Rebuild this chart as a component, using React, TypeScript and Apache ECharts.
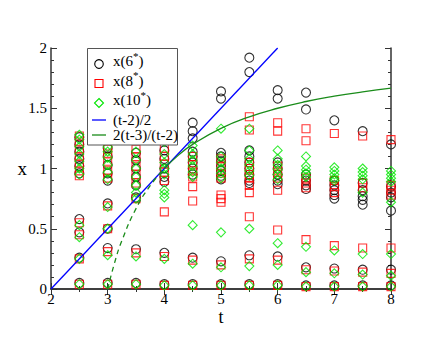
import React, { useEffect, useRef } from 'react';
import * as echarts from 'echarts';

const tValues = [2.5, 3, 3.5, 4, 4.5, 5, 5.5, 6, 6.5, 7, 7.5, 8];

const x6: number[][] = [
  [1.26, 1.2, 1.14, 1.08, 1.02, 0.96, 0.58, 0.47, 0.26, 0.05],
  [1.17, 1.1, 1.03, 0.96, 0.9, 0.71, 0.5, 0.34, 0.05],
  [1.13, 1.07, 1.0, 0.93, 0.86, 0.76, 0.33, 0.05],
  [1.15, 1.08, 1.0, 0.93, 0.89, 0.3, 0.04],
  [1.38, 1.31, 1.25, 1.14, 1.1, 1.05, 1.0, 0.95, 0.26, 0.04],
  [1.64, 1.58, 1.13, 1.1, 1.06, 1.02, 0.98, 0.94, 0.91, 0.23, 0.04],
  [1.92, 1.8, 1.15, 1.1, 1.05, 1.0, 0.95, 0.9, 0.88, 0.28, 0.04],
  [1.65, 1.58, 1.05, 1.0, 0.95, 0.9, 0.87, 0.27, 0.04],
  [1.63, 1.49, 0.95, 0.9, 0.86, 0.83, 0.18, 0.03],
  [1.4, 0.9, 0.86, 0.82, 0.78, 0.75, 0.17, 0.03],
  [1.31, 0.88, 0.82, 0.77, 0.74, 0.7, 0.16, 0.03],
  [1.2, 0.85, 0.8, 0.76, 0.65, 0.16, 0.03],
];

const x8: number[][] = [
  [1.27, 1.22, 1.16, 1.1, 1.04, 0.98, 0.94, 0.55, 0.45, 0.25, 0.04],
  [1.16, 1.12, 1.06, 0.98, 0.92, 0.69, 0.5, 0.31, 0.04],
  [1.16, 1.1, 1.02, 0.95, 0.88, 0.75, 0.3, 0.04],
  [1.17, 1.1, 1.04, 0.97, 0.9, 0.64, 0.27, 0.03],
  [1.1, 1.03, 0.98, 0.93, 0.85, 0.73, 0.24, 0.03],
  [1.08, 1.02, 0.96, 0.92, 0.78, 0.75, 0.72, 0.2, 0.03],
  [1.43, 1.32, 1.05, 1.0, 0.95, 0.92, 0.86, 0.8, 0.6, 0.25, 0.03],
  [1.38, 1.31, 1.02, 0.97, 0.92, 0.82, 0.49, 0.24, 0.03],
  [1.33, 1.23, 0.92, 0.88, 0.84, 0.41, 0.16, 0.02],
  [1.29, 0.9, 0.85, 0.8, 0.36, 0.15, 0.02],
  [1.27, 0.88, 0.84, 0.34, 0.14, 0.02],
  [1.24, 0.86, 0.82, 0.78, 0.34, 0.13, 0.02],
];

const x10: number[][] = [
  [1.28, 1.24, 1.18, 1.12, 1.06, 1.0, 0.95, 0.53, 0.43, 0.25, 0.04],
  [1.18, 1.14, 1.09, 1.03, 0.97, 0.91, 0.68, 0.5, 0.28, 0.04],
  [1.14, 1.07, 1.0, 0.93, 0.86, 0.8, 0.75, 0.27, 0.04],
  [1.22, 1.12, 1.05, 1.0, 0.95, 0.82, 0.79, 0.76, 0.25, 0.03],
  [1.19, 1.12, 1.07, 1.02, 0.97, 0.93, 0.53, 0.21, 0.03],
  [1.33, 1.1, 1.05, 1.0, 0.96, 0.92, 0.47, 0.18, 0.03],
  [1.33, 1.15, 1.08, 1.03, 0.98, 0.94, 0.5, 0.19, 0.03],
  [1.15, 1.08, 1.03, 0.99, 0.95, 0.91, 0.38, 0.2, 0.03],
  [1.1, 1.02, 0.99, 0.96, 0.93, 0.35, 0.14, 0.02],
  [1.01, 0.98, 0.95, 0.92, 0.9, 0.32, 0.13, 0.02],
  [1.0, 0.97, 0.94, 0.91, 0.8, 0.29, 0.12, 0.02],
  [0.98, 0.95, 0.92, 0.89, 0.72, 0.29, 0.11, 0.02],
];

const blueT = [2, 6];
const blueX = [0, 2];

const greenSolidT = [4, 4.25, 4.5, 5, 5.5, 6, 6.5, 7, 7.5, 8];
const greenSolidX = [1, 1.111, 1.2, 1.333, 1.429, 1.5, 1.556, 1.6, 1.636, 1.667];

const greenDashT = [3, 3.125, 3.25, 3.5, 3.75, 4];
const greenDashX = [0, 0.222, 0.4, 0.667, 0.857, 1];

const legendNames = ['x(6*)', 'x(8*)', 'x(10*)', '(t-2)/2', '2(t-3)/(t-2)'];
const yTickLabels = ['0', '0.5', '1', '1.5', '2'];

const FONT = "'Liberation Serif', 'Times New Roman', 'DejaVu Serif', serif";

const BLACK = '#000000';
const RED = '#ff0000';
const LIME = '#00e600';
const BLUE = '#0000ff';
const DKGREEN = '#1a8c1a';

function toPairs(cols: number[][]) {
  const out: number[][] = [];
  cols.forEach((vals, i) => vals.forEach((v) => out.push([tValues[i], v])));
  return out;
}
function zip(a: number[], b: number[]) {
  return a.map((v, i) => [v, b[i]]);
}

function legendGraphic() {
  const iconX = 99;
  const textX = 113;
  const rows = [64, 83.5, 103, 120, 135];
  const supRe = /^(.*)\*(\))$/;
  const textEl = (i: number) => {
    const name = legendNames[i];
    const m = name.match(supRe);
    return {
      type: 'text',
      x: textX,
      y: rows[i] + (m ? -3 : 0),
      z: 101,
      style: {
        text: m ? `{m|${m[1]}}{sup|*}{m|${m[2]}}` : name,
        fontFamily: FONT,
        fontSize: 15,
        fill: '#000',
        verticalAlign: 'middle',
        align: 'left',
        rich: m
          ? {
              m: { fontFamily: FONT, fontSize: 15, fill: '#000', lineHeight: 22, verticalAlign: 'middle' },
              sup: { fontFamily: FONT, fontSize: 11, fill: '#000', verticalAlign: 'top', lineHeight: 10 },
            }
          : undefined,
      },
    };
  };
  const sw = 1.1;
  return [
    {
      type: 'rect', z: 100,
      shape: { x: 87.5, y: 48.5, width: 90, height: 96.5 },
      style: { fill: '#fff', stroke: '#555', lineWidth: 1 },
    },
    { type: 'circle', z: 101, shape: { cx: iconX, cy: rows[0], r: 4.3 }, style: { fill: 'none', stroke: BLACK, lineWidth: sw } },
    { type: 'rect', z: 101, shape: { x: iconX - 4, y: rows[1] - 4, width: 8, height: 8 }, style: { fill: 'none', stroke: RED, lineWidth: sw } },
    {
      type: 'polygon', z: 101,
      shape: { points: [[iconX, rows[2] - 4.5], [iconX + 4.5, rows[2]], [iconX, rows[2] + 4.5], [iconX - 4.5, rows[2]]] },
      style: { fill: 'none', stroke: LIME, lineWidth: sw },
    },
    { type: 'line', z: 101, shape: { x1: 92, y1: rows[3], x2: 106, y2: rows[3] }, style: { stroke: BLUE, lineWidth: 1.3 } },
    { type: 'line', z: 101, shape: { x1: 92, y1: rows[4], x2: 106, y2: rows[4] }, style: { stroke: DKGREEN, lineWidth: 1.3 } },
    textEl(0), textEl(1), textEl(2), textEl(3), textEl(4),
  ];
}

export default function App() {
  const ref = useRef<HTMLDivElement>(null);
  useEffect(() => {
    if (!ref.current) return;
    const chart = echarts.init(ref.current, null, { renderer: 'svg' });
    const axisLine = { show: true, lineStyle: { color: '#333', width: 1.5 } };
    const axisTick = { show: true, inside: true, length: 6, lineStyle: { color: '#333', width: 1 } };
    const yMinor = { show: true, splitNumber: 5, length: 3, lineStyle: { color: '#333', width: 1 } };
    const xMinor = { show: true, splitNumber: 2, length: 3, lineStyle: { color: '#333', width: 1 } };
    const option: any = {
      animation: false,
      backgroundColor: '#fff',
      textStyle: { fontFamily: FONT },
      grid: { left: 51, top: 48, right: 49, bottom: 51, containLabel: false },
      graphic: legendGraphic(),
      xAxis: [
        {
          type: 'value', min: 2, max: 8, interval: 1, position: 'bottom',
          name: 't', nameLocation: 'middle', nameGap: 19, nameMoveOverlap: false,
          nameTextStyle: { fontFamily: FONT, fontSize: 18, color: '#000' },
          axisLine, axisTick, minorTick: xMinor, splitLine: { show: false },
          axisLabel: { fontFamily: FONT, fontSize: 15, color: '#000', margin: 2 },
        },
        {
          type: 'value', min: 2, max: 8, interval: 1, position: 'top',
          axisLine, axisTick, minorTick: xMinor, splitLine: { show: false },
          axisLabel: { show: false },
        },
      ],
      yAxis: [
        {
          type: 'value', min: 0, max: 2, interval: 0.5, position: 'left',
          name: 'x', nameLocation: 'middle', nameGap: 24, nameRotate: 0, nameMoveOverlap: false,
          nameTextStyle: { fontFamily: FONT, fontSize: 19, color: '#000' },
          axisLine, axisTick, minorTick: yMinor, splitLine: { show: false },
          axisLabel: {
            fontFamily: FONT, fontSize: 15, color: '#000', margin: 4,
            formatter: (v: number) => yTickLabels[Math.round(v / 0.5)] ?? '',
          },
        },
        {
          type: 'value', min: 0, max: 2, interval: 0.5, position: 'right',
          axisLine, axisTick, minorTick: yMinor, splitLine: { show: false },
          axisLabel: { show: false },
        },
      ],
      series: [
        {
          name: legendNames[0], type: 'scatter', symbol: 'circle', symbolSize: 9,
          itemStyle: { color: 'rgba(0,0,0,0)', borderColor: BLACK, borderWidth: 1.1 },
          data: toPairs(x6),
        },
        {
          name: legendNames[1], type: 'scatter', symbol: 'rect', symbolSize: 8,
          itemStyle: { color: 'rgba(0,0,0,0)', borderColor: RED, borderWidth: 1.1 },
          data: toPairs(x8),
        },
        {
          name: legendNames[2], type: 'scatter', symbol: 'diamond', symbolSize: 9,
          itemStyle: { color: 'rgba(0,0,0,0)', borderColor: LIME, borderWidth: 1.1 },
          data: toPairs(x10),
        },
        {
          name: legendNames[3], type: 'line', symbol: 'none', showSymbol: false,
          lineStyle: { color: BLUE, width: 1.3 },
          data: zip(blueT, blueX),
        },
        {
          name: legendNames[4], type: 'line', symbol: 'none', showSymbol: false, smooth: true,
          lineStyle: { color: DKGREEN, width: 1.3 },
          data: zip(greenSolidT, greenSolidX),
        },
        {
          name: 'dashed', type: 'line', symbol: 'none', showSymbol: false, smooth: true,
          lineStyle: { color: DKGREEN, width: 1.3, type: [5, 4] },
          data: zip(greenDashT, greenDashX),
        },
      ],
    };
    chart.setOption(option);
    return () => chart.dispose();
  }, []);
  return <div ref={ref} style={{ width: 440, height: 340, position: 'absolute', left: 0, top: 0 }} />;
}
